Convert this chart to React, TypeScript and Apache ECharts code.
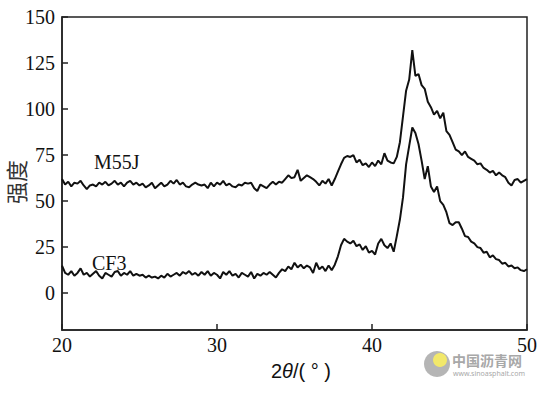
import React, { useEffect, useRef } from "react";
import * as echarts from "echarts";

// 2θ angles (°)
const angles = [
  20.0, 20.2, 20.4, 20.6, 20.8, 21.0, 21.2, 21.4, 21.6, 21.8,
  22.0, 22.2, 22.4, 22.6, 22.8, 23.0, 23.2, 23.4, 23.6, 23.8,
  24.0, 24.2, 24.4, 24.6, 24.8, 25.0, 25.2, 25.4, 25.6, 25.8,
  26.0, 26.2, 26.4, 26.6, 26.8, 27.0, 27.2, 27.4, 27.6, 27.8,
  28.0, 28.2, 28.4, 28.6, 28.8, 29.0, 29.2, 29.4, 29.6, 29.8,
  30.0, 30.2, 30.4, 30.6, 30.8, 31.0, 31.2, 31.4, 31.6, 31.8,
  32.0, 32.2, 32.4, 32.6, 32.8, 33.0, 33.2, 33.4, 33.6, 33.8,
  34.0, 34.2, 34.4, 34.6, 34.8, 35.0, 35.2, 35.4, 35.6, 35.8,
  36.0, 36.2, 36.4, 36.6, 36.8, 37.0, 37.2, 37.4, 37.6, 37.8,
  38.0, 38.2, 38.4, 38.6, 38.8, 39.0, 39.2, 39.4, 39.6, 39.8,
  40.0, 40.2, 40.4, 40.6, 40.8, 41.0, 41.2, 41.4, 41.6, 41.8,
  42.0, 42.2, 42.4, 42.6, 42.8, 43.0, 43.2, 43.4, 43.6, 43.8,
  44.0, 44.2, 44.4, 44.6, 44.8, 45.0, 45.2, 45.4, 45.6, 45.8,
  46.0, 46.2, 46.4, 46.6, 46.8, 47.0, 47.2, 47.4, 47.6, 47.8,
  48.0, 48.2, 48.4, 48.6, 48.8, 49.0, 49.2, 49.4, 49.6, 49.8,
  50.0,
];

const m55j = [
  62, 59, 60.5, 58, 60, 59.5, 61, 58.5, 56.5, 58.5,
  59, 58, 60, 59, 60.5, 58.5, 59.5, 61, 59, 60,
  58, 60, 61, 59, 60, 58.5, 59.5, 57.5, 58.5, 60,
  57, 58.5, 60, 58, 59, 61, 59.5, 61.5, 59, 60,
  58, 57.5, 59, 60, 59, 58.5, 59, 57, 60, 58,
  60, 59, 61, 58.5, 59.5, 58, 57.5, 59, 58.5, 60,
  59.5, 60, 57, 55.5, 59, 58, 57, 59, 60.5, 59,
  60.5, 60, 62, 64, 62.5, 63, 67, 61, 62.5, 64,
  63, 62, 60.5, 58.5, 61, 59.5, 62, 58.5, 62, 66,
  70, 73.5, 74.5, 74, 75, 71, 72.5, 69.5, 70.5, 68.5,
  71, 69, 72, 70, 76, 72, 71, 70.5, 74, 82,
  96, 110, 116, 132, 118, 119, 113, 111, 104, 101,
  97, 99, 95, 98, 88, 86, 82, 78, 77, 75,
  77, 74, 73, 72, 70, 70.5, 68, 67, 65.5, 66.5,
  64, 65.5, 64, 63, 60, 58.5, 61.5, 62, 60, 61,
  62,
];

const cf3 = [
  15, 11, 10, 12, 9.5, 11, 13.5, 10, 11, 9,
  10.5, 12, 9.5, 8, 11, 10, 9, 11.5, 12, 9.5,
  11, 10, 12, 9.5, 10.5, 9.5, 10, 8.5, 9.5, 8.5,
  9, 8, 9.5, 8.5, 10.5, 9, 10, 11, 9.5, 11.5,
  10.5, 12, 10, 11, 9.5, 11.5, 10, 12, 9.5, 11,
  10, 8, 11.5, 10, 12, 9.5, 10.5, 8.5, 11, 10,
  9, 11.5, 8, 10.5, 9.5, 11, 10, 11.5, 10, 8.5,
  11, 13, 12, 14.5, 13, 16.5, 14, 15.5, 13.5, 15,
  14, 11, 16.5, 13, 14.5, 12, 15, 12.5, 15.5, 20,
  26, 29.5, 28, 27, 28.5, 25.5, 26.5, 23.5, 25.5, 22,
  23, 21, 27, 29.5, 26, 24.5, 27, 22.5, 31, 40,
  52, 70, 80, 90, 87, 81, 72, 62, 69, 58,
  55, 58, 50, 48, 44, 38, 37, 38.5, 38.5, 35,
  31, 30.5, 28, 27, 25, 24.5, 22, 22.5, 19.5, 20.5,
  18.5, 18, 16, 16.5, 14.5, 15, 13.5, 14, 12.5, 12,
  13,
];

const xTicks = [20, 30, 40, 50];
const yTicks = [0, 25, 50, 75, 100, 125, 150];
const seriesNames = ["M55J", "CF3"];

export default function App() {
  const ref = useRef<HTMLDivElement>(null);
  useEffect(() => {
    if (!ref.current) return;
    document.body.style.margin = "0";
    const chart = echarts.init(ref.current, undefined, { renderer: "svg" });
    const font = "Liberation Serif";
    const toPairs = (ys: number[]) => angles.map((a, i) => [a, ys[i]]);
    chart.setOption({
      animation: false,
      backgroundColor: "#ffffff",
      grid: {
        left: 62,
        right: 12,
        top: 17,
        bottom: 63,
        show: true,
        borderColor: "#222",
        borderWidth: 1.5,
      },
      xAxis: {
        type: "value",
        min: 20,
        max: 50,
        interval: 10,
        axisLine: { show: true, onZero: false, lineStyle: { color: "#222", width: 1.5 } },
        axisTick: { show: true, inside: true, length: 6, lineStyle: { color: "#222", width: 1.5 } },
        axisLabel: { show: false },
        splitLine: { show: false },
      },
      yAxis: {
        type: "value",
        min: -20,
        max: 150,
        axisLine: { show: true, onZero: false, lineStyle: { color: "#222", width: 1.5 } },
        axisTick: {
          show: true,
          inside: true,
          length: 6,
          customValues: yTicks,
          lineStyle: { color: "#222", width: 1.5 },
        },
        axisLabel: { show: false },
        splitLine: { show: false },
      },
      series: [
        {
          name: seriesNames[0],
          type: "line",
          data: toPairs(m55j),
          showSymbol: false,
          lineStyle: { color: "#111", width: 2 },
        },
        {
          name: seriesNames[1],
          type: "line",
          data: toPairs(cf3),
          showSymbol: false,
          lineStyle: { color: "#111", width: 2 },
        },
      ],
    });

    const finder = { xAxisIndex: 0, yAxisIndex: 0 };
    const tickLabels: any[] = [];
    xTicks.forEach((v) => {
      const p = chart.convertToPixel(finder, [v, -20]) as number[];
      tickLabels.push({
        type: "text",
        x: p[0],
        y: p[1] + 5,
        style: {
          text: String(v),
          fill: "#111",
          fontFamily: font,
          fontSize: 20,
          align: "center",
          verticalAlign: "top",
        },
      });
    });
    yTicks.forEach((v) => {
      const p = chart.convertToPixel(finder, [20, v]) as number[];
      tickLabels.push({
        type: "text",
        x: p[0] - 7,
        y: p[1],
        style: {
          text: String(v),
          fill: "#111",
          fontFamily: font,
          fontSize: 20,
          align: "right",
          verticalAlign: "middle",
        },
      });
    });

    chart.setOption({
      graphic: [
        ...tickLabels,
        {
          type: "text",
          left: 94,
          top: 152,
          style: { text: seriesNames[0], fill: "#111", fontFamily: font, fontSize: 20 },
        },
        {
          type: "text",
          left: 92,
          top: 253,
          style: { text: seriesNames[1], fill: "#111", fontFamily: font, fontSize: 20 },
        },
        {
          type: "text",
          x: 4,
          y: 204,
          rotation: Math.PI / 2,
          style: {
            text: "强度",
            fill: "#333",
            fontFamily: "Noto Sans CJK SC",
            fontSize: 22,
          },
        },
        {
          type: "text",
          left: 271,
          top: 361,
          style: {
            text: "2{i|θ}/( ° )",
            fill: "#111",
            fontFamily: "Liberation Sans",
            fontSize: 20,
            rich: {
              i: { fontStyle: "italic", fontSize: 20, fontFamily: "Liberation Sans", fill: "#111" },
            },
          },
        },
        {
          type: "circle",
          shape: { cx: 437, cy: 364, r: 13 },
          style: { fill: "#b5b5b5" },
        },
        {
          type: "circle",
          shape: { cx: 440, cy: 360, r: 7 },
          style: { fill: "#f2e86a" },
        },
        {
          type: "text",
          left: 452,
          top: 353,
          style: {
            text: "中国沥青网",
            fill: "#a8a8a8",
            fontFamily: "Noto Sans CJK SC",
            fontWeight: "bold",
            fontSize: 14,
          },
        },
        {
          type: "text",
          left: 453,
          top: 370,
          style: {
            text: "www.sinoasphalt.com",
            fill: "#a8a8a8",
            fontFamily: "Noto Sans",
            fontSize: 7,
          },
        },
      ],
    });
    return () => chart.dispose();
  }, []);
  return <div ref={ref} style={{ width: 539, height: 393 }} />;
}
